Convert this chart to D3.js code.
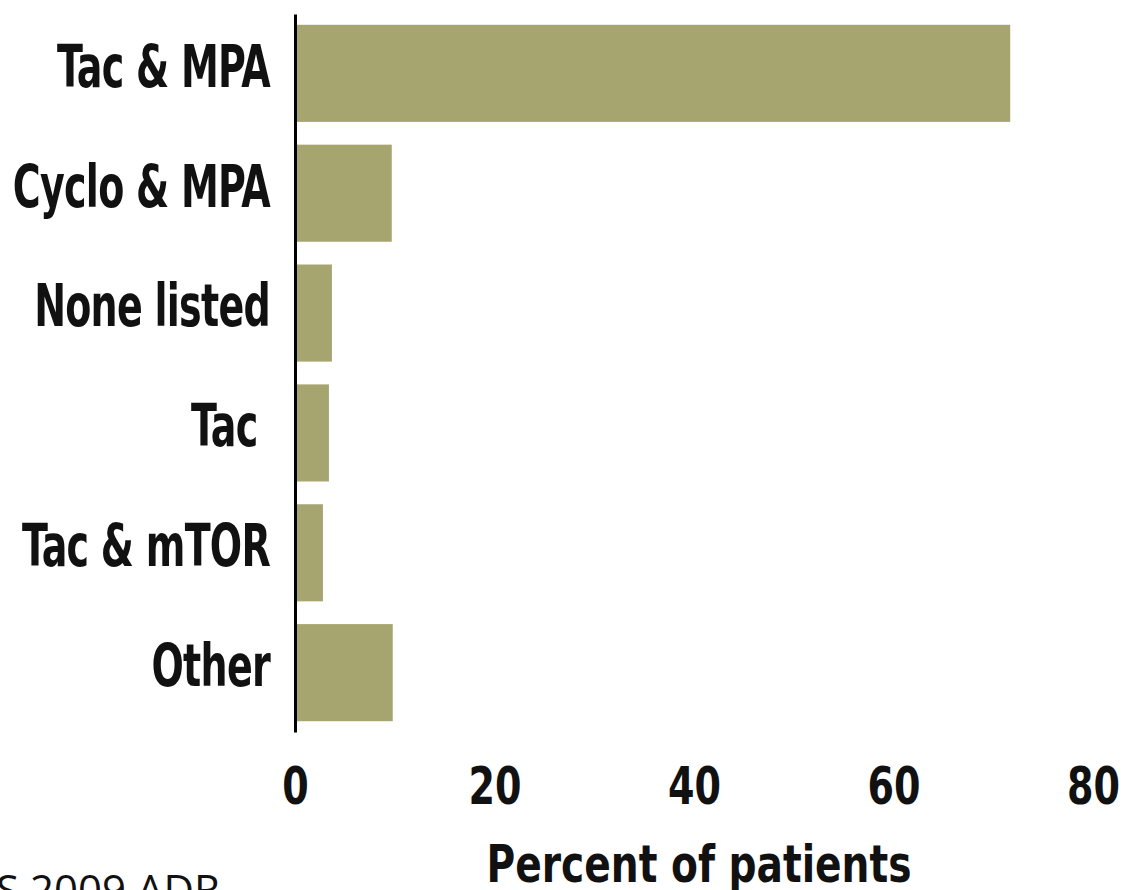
<!DOCTYPE html>
<html>
<head>
<meta charset="utf-8">
<script src="https://cdn.jsdelivr.net/npm/d3@7"></script>
<style>
  body { margin: 0; background: #fff; }
  svg { display: block; }
  .cat text { font-family: "DejaVu Sans Condensed", "DejaVu Sans", sans-serif; font-weight: bold; font-size: 58px; letter-spacing: -1px; fill: #111; white-space: pre; }
  .xaxis text { font-family: "DejaVu Sans Condensed", "DejaVu Sans", sans-serif; font-weight: bold; font-size: 52px; fill: #111; }
</style>
</head>
<body>
<div id="chart"></div>
<script>
// regimen categories, top to bottom
var regimens = ["Tac & MPA", "Cyclo & MPA", "None listed", "Tac ", "Tac & mTOR", "Other"];
// percent of patients for each regimen
var percents = [71.7, 9.7, 3.7, 3.4, 2.8, 9.8];
var xTicks = [0, 20, 40, 60, 80];

var data = regimens.map(function(r, i) { return {name: r, value: percents[i]}; });

var W = 1128, H = 890;

var svg = d3.select("#chart").append("svg")
    .attr("width", W)
    .attr("height", H);

var x = d3.scaleLinear().domain([0, 80]).range([295, 1093]);

var y = d3.scaleBand()
    .domain(regimens)
    .range([14, 732])
    .paddingInner(0.19)
    .paddingOuter(0.09);

// bars
svg.append("g")
    .selectAll("rect")
    .data(data)
    .enter().append("rect")
    .attr("x", x(0))
    .attr("y", function(d) { return y(d.name); })
    .attr("width", function(d) { return x(d.value) - x(0); })
    .attr("height", y.bandwidth())
    .attr("fill", "#a6a46f");

// category axis (vertical line + labels)
var yAxis = svg.append("g")
    .attr("class", "cat")
    .attr("transform", "translate(" + x(0) + ",0)")
    .call(d3.axisLeft(y).tickSize(0));
yAxis.select(".domain")
    .attr("stroke", "#000")
    .attr("stroke-width", 3);

// the original type is narrow, squeeze the labels horizontally
var catText = yAxis.selectAll("text");
var catScale = 213 / catText.nodes()[0].getComputedTextLength();
catText
    .attr("x", 0)
    .attr("dy", "0.23em")
    .attr("transform", "translate(-25,0) scale(" + catScale + ",1)");

// value axis, labels only
var xAxis = svg.append("g")
    .attr("class", "xaxis")
    .attr("transform", "translate(0,732)")
    .call(d3.axisBottom(x).tickValues(xTicks).tickSize(0).tickPadding(35));
xAxis.select(".domain").remove();
var tickText = xAxis.selectAll("text");
var tickScale = 53 / tickText.nodes()[1].getComputedTextLength();
tickText.attr("transform", "scale(" + tickScale + ",1)");

// axis title
var title = svg.append("text")
    .attr("x", 0)
    .attr("y", 0)
    .attr("text-anchor", "middle")
    .style("font-family", "'DejaVu Sans Condensed', 'DejaVu Sans', sans-serif")
    .style("font-weight", "bold")
    .style("font-size", "51px")
    .style("fill", "#111")
    .text("Percent of patients");
var titleScale = 425 / title.node().getComputedTextLength();
title.attr("transform", "translate(699,882) scale(" + titleScale + ",1)");

// source note, cut off by the page edge
svg.append("text")
    .attr("x", -4)
    .attr("y", 905)
    .style("font-family", "'Open Sans', sans-serif")
    .style("font-size", "42px")
    .style("fill", "#111")
    .text("S 2009 ADR");
</script>
</body>
</html>
